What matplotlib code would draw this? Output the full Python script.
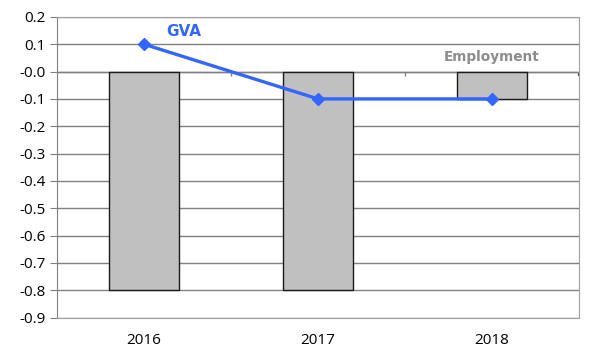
import matplotlib.pyplot as plt
import numpy as np

years = ['2016', '2017', '2018']
employment = [-0.8, -0.8, -0.1]
gva = [0.1, -0.1, -0.1]

plt.rcParams['font.family'] = ['Open Sans', 'DejaVu Sans']

fig = plt.figure(figsize=(6, 3.6), dpi=100)
ax = fig.add_axes([0.095, 0.118, 0.87, 0.835])

x = np.arange(len(years))
ax.bar(x, employment, width=0.4, color='#c0c0c0', edgecolor='#1a1a1a', linewidth=1, zorder=2)
ax.plot(x, gva, color='#3366ff', linewidth=2.4, marker='D', markersize=6, zorder=3)

ax.set_xlim(-0.5, 2.5)
ax.set_ylim(-0.9, 0.2)
ax.set_yticks(np.arange(-0.9, 0.21, 0.1))
ax.yaxis.set_major_formatter(plt.FuncFormatter(lambda v, p: f'{v:.1f}'))
ax.set_xticks(x)
ax.set_xticklabels(years)
ax.tick_params(axis='x', length=0, pad=11, labelsize=11)
ax.tick_params(axis='y', length=5, color='#808080', labelsize=11, pad=3)

ax.grid(axis='y', color='#808080', linewidth=1, zorder=0)
for s in ax.spines.values():
    s.set_color('#a0a0a0')
ax.spines['left'].set_color('#808080')

# axis line at zero with category tick marks
ax.axhline(0, color='#808080', linewidth=1, zorder=1)
ax.vlines(x[:-1] + 0.5, -0.018, 0, color='#808080', linewidth=1, zorder=1)
ax.vlines(2.5, -0.018, 0, color='#404040', linewidth=1.5, zorder=1)

ax.text(0.13, 0.148, 'GVA', color='#3366ff', fontsize=11, fontweight='bold',
        family=['DejaVu Sans'], va='center')
ax.text(2.0, 0.054, 'Employment', color='#8c8c8c', fontsize=9.8, fontweight='bold',
        family=['DejaVu Sans'], va='center', ha='center')

fig.savefig('out.png', dpi=100)
